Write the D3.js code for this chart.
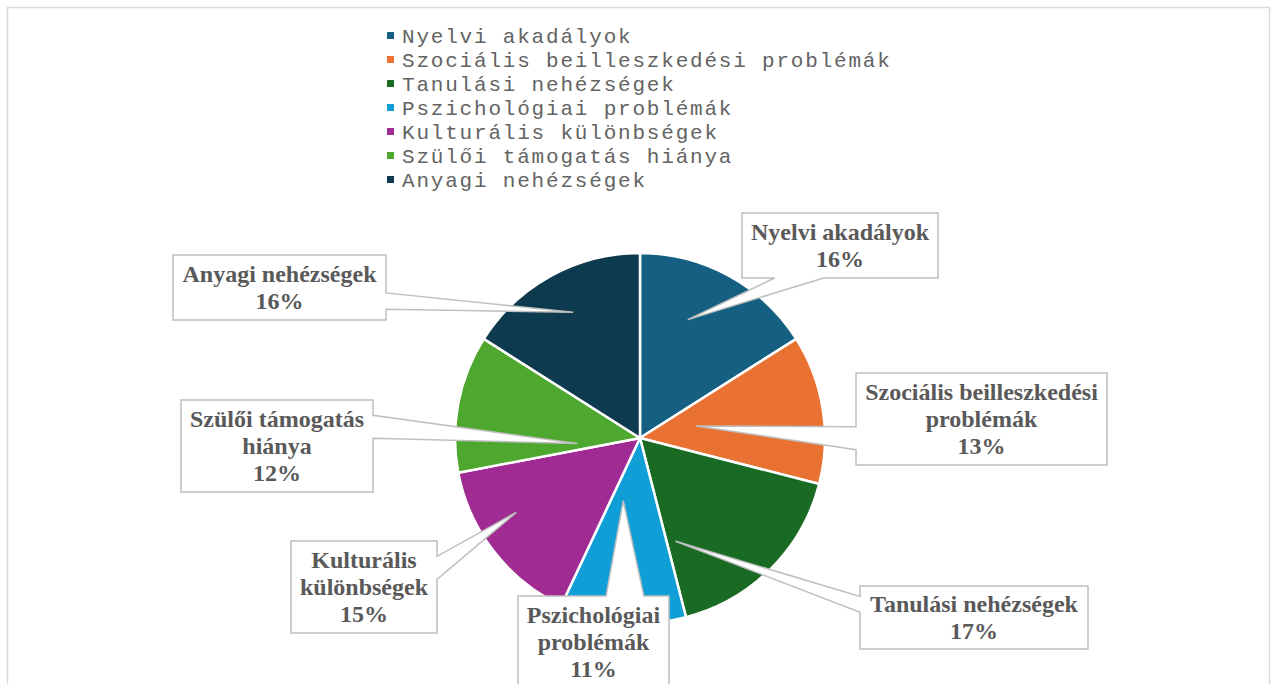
<!DOCTYPE html>
<html>
<head>
<meta charset="utf-8">
<script src="https://cdn.jsdelivr.net/npm/d3@7"></script>
<style>
  body { margin: 0; background: #fff; }
  svg { display: block; }
</style>
</head>
<body>
<div id="chart"></div>
<script>
// data
var categories = ["Nyelvi akadályok", "Szociális beilleszkedési problémák", "Tanulási nehézségek",
                  "Pszichológiai problémák", "Kulturális különbségek", "Szülői támogatás hiánya",
                  "Anyagi nehézségek"];
var values = [16, 13, 17, 11, 15, 12, 16];
var colors = ["#156082", "#e97132", "#196b24", "#0f9ed5", "#a02b93", "#4ea72e", "#0e3a4f"];

// callout layout: box [dx, dy, w, h] relative to pie centre, tip [angle deg, fraction of radius]
var calloutBoxes = [[102, -225, 196, 65], [216, -65, 251, 92], [220, 148, 228, 63],
                    [-122, 158, 151, 92], [-349, 103, 146, 92], [-459, -38, 192, 92],
                    [-467, -183, 213, 65]];
var calloutTips = [[22, 0.69], [78, 0.31], [161, 0.59], [195, 0.35], [239, 0.78], [265, 0.34], [332, 0.77]];

var width = 1272, height = 684;
var cx = 640, cy = 438, radius = 185;

var svg = d3.select("#chart").append("svg")
    .attr("width", width)
    .attr("height", height);

// chart area border
svg.append("rect")
    .attr("x", 7.5).attr("y", 7.5)
    .attr("width", 1262).attr("height", 700)
    .attr("fill", "#fff")
    .attr("stroke", "#d9d9d9")
    .attr("stroke-width", 1.5);

// legend
var legend = svg.append("g").attr("transform", "translate(387,0)");
var rows = legend.selectAll(".row")
    .data(categories)
    .enter().append("g")
    .attr("class", "row")
    .attr("transform", function(d, i) { return "translate(0," + (32 + i * 24) + ")"; });
rows.append("rect")
    .attr("width", 7).attr("height", 7)
    .attr("fill", function(d, i) { return colors[i]; });
rows.append("text")
    .attr("x", 15).attr("y", 10.5)
    .attr("font-family", "'Courier New', 'Liberation Mono', monospace")
    .attr("font-size", "21px")
    .attr("letter-spacing", "1.8px")
    .attr("fill", "#636363")
    .text(function(d) { return d; });

// pie
var pie = d3.pie().sort(null).value(function(d) { return d; });
var arc = d3.arc().innerRadius(0).outerRadius(radius);
var arcs = pie(values);

var g = svg.append("g").attr("transform", "translate(" + cx + "," + cy + ")");
g.selectAll(".slice")
    .data(arcs)
    .enter().append("path")
    .attr("class", "slice")
    .attr("d", arc)
    .attr("fill", function(d, i) { return colors[i]; })
    .attr("stroke", "#fff")
    .attr("stroke-width", 2.5);

// wedge-shaped callouts, like the spreadsheet's data callouts
function calloutPath(b, tip) {
  var x = b[0], y = b[1], w = b[2], h = b[3];
  var mx = x + w / 2, my = y + h / 2;
  var dx = tip[0] - mx, dy = tip[1] - my;
  var pts;
  if (Math.abs(dx) / w > Math.abs(dy) / h) {
    // left or right edge
    var f = dy < 0 ? [2 / 12, 5 / 12] : [7 / 12, 10 / 12];
    var ya = y + h * f[0], yb = y + h * f[1];
    if (dx > 0) {
      pts = [[x, y], [x + w, y], [x + w, ya], tip, [x + w, yb], [x + w, y + h], [x, y + h]];
    } else {
      pts = [[x, y], [x + w, y], [x + w, y + h], [x, y + h], [x, yb], tip, [x, ya]];
    }
  } else {
    var fx = dx < 0 ? [2 / 12, 5 / 12] : [7 / 12, 10 / 12];
    var xa = x + w * fx[0], xb = x + w * fx[1];
    if (dy > 0) {
      pts = [[x, y], [x + w, y], [x + w, y + h], [xb, y + h], tip, [xa, y + h], [x, y + h]];
    } else {
      pts = [[x, y], [xa, y], tip, [xb, y], [x + w, y], [x + w, y + h], [x, y + h]];
    }
  }
  return "M" + pts.map(function(p) { return p[0] + "," + p[1]; }).join("L") + "Z";
}

var labels = svg.append("g").attr("transform", "translate(" + cx + "," + cy + ")");
arcs.forEach(function(d, i) {
  var b = calloutBoxes[i];
  var a = calloutTips[i][0] * Math.PI / 180, r = calloutTips[i][1] * radius;
  var tip = [Math.sin(a) * r, -Math.cos(a) * r];

  labels.append("path")
      .attr("d", calloutPath(b, tip))
      .attr("fill", "#fff")
      .attr("stroke", "#bfbfbf")
      .attr("stroke-width", 1.5)
      .attr("stroke-linejoin", "miter");

  var t = labels.append("text")
      .attr("text-anchor", "middle")
      .attr("font-family", "'Times New Roman', 'Liberation Serif', serif")
      .attr("font-weight", "bold")
      .attr("font-size", "24px")
      .attr("fill", "#595959");

  // wrap the category name to the box width
  var words = categories[i].split(" "), lines = [], line = [];
  var probe = t.append("tspan");
  words.forEach(function(wd) {
    line.push(wd);
    probe.text(line.join(" "));
    if (probe.node().getComputedTextLength() > b[2] - 8 && line.length > 1) {
      line.pop();
      lines.push(line.join(" "));
      line = [wd];
    }
  });
  lines.push(line.join(" "));
  probe.remove();
  lines.push(d3.format(".0%")(d.data / d3.sum(values)));

  var lh = 27;
  var y0 = b[1] + b[3] / 2 - (lines.length - 1) * lh / 2 + 8;
  lines.forEach(function(l, k) {
    t.append("tspan")
        .attr("x", b[0] + b[2] / 2)
        .attr("y", y0 + k * lh)
        .text(l);
  });
});
</script>
</body>
</html>
